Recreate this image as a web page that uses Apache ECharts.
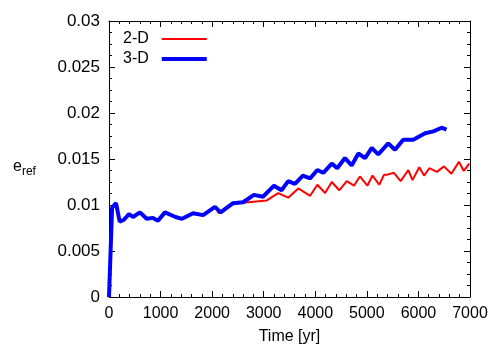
<!DOCTYPE html>
<html>
<head>
<meta charset="utf-8">
<script src="https://cdn.jsdelivr.net/npm/echarts@6/dist/echarts.min.js"></script>
<style>
  html, body { margin: 0; padding: 0; background: #fff; }
  #chart { width: 500px; height: 350px; }
</style>
</head>
<body>
<div id="chart"></div>
<script>
// values
const years3D = [0, 60, 136, 207, 290, 388, 465, 600, 730, 853, 950, 1085, 1290, 1415, 1630, 1825, 2055,
  2165, 2405, 2600, 2810, 2985, 3200, 3345, 3475, 3605, 3760, 3900, 4040, 4155, 4320, 4425, 4575, 4705,
  4835, 4965, 5095, 5220, 5415, 5545, 5705, 5900, 6130, 6290, 6450, 6545];
const values3D = [0, 0.0097, 0.0102, 0.0082, 0.0084, 0.009, 0.0087, 0.0092, 0.0085, 0.0086, 0.0083, 0.0092,
  0.0087, 0.0085, 0.0091, 0.0089, 0.0098, 0.0092, 0.0102, 0.0103, 0.0111, 0.0109, 0.0121, 0.0116, 0.0126,
  0.0123, 0.0132, 0.0129, 0.0138, 0.0135, 0.0145, 0.014, 0.0151, 0.0143, 0.0156, 0.0151, 0.0162, 0.0155,
  0.0167, 0.016, 0.0171, 0.0171, 0.0178, 0.018, 0.0184, 0.0182];

const years2D = [0, 60, 136, 207, 290, 388, 465, 600, 730, 853, 950, 1085, 1290, 1415, 1630, 1825, 2055,
  2130, 2280, 2475, 2700, 2900, 3060, 3280, 3475, 3670, 3900, 4040, 4190, 4320, 4465, 4610, 4750, 4865,
  5010, 5110, 5240, 5335, 5400, 5525, 5655, 5805, 5885, 6015, 6110, 6210, 6360, 6495, 6640, 6785, 6880, 6985];
const values2D = [0, 0.0097, 0.0102, 0.0082, 0.0084, 0.009, 0.0087, 0.0092, 0.0085, 0.0086, 0.0083, 0.0092,
  0.0087, 0.0085, 0.0091, 0.0089, 0.0098, 0.0091, 0.0098, 0.0102, 0.0103, 0.0104, 0.0105, 0.0113, 0.0108,
  0.0118, 0.011, 0.0122, 0.0113, 0.0125, 0.0116, 0.0126, 0.0121, 0.0131, 0.0121, 0.0132, 0.0122, 0.0133,
  0.0133, 0.0135, 0.0126, 0.0138, 0.0127, 0.0141, 0.0132, 0.014, 0.0136, 0.0142, 0.0134, 0.0147, 0.0137, 0.0145];

const seriesNames = ['2-D', '3-D'];
const xName = 'Time [yr]';

const font = 'Liberation Sans, Arial, sans-serif';

function zip(xs, ys) {
  return xs.map((x, i) => [x, ys[i]]);
}

const chart = echarts.init(document.getElementById('chart'), null, { renderer: 'canvas' });

const lineStyleBlack = { color: '#000', width: 1 };
const tickStyle = { show: true, inside: true, length: 6, lineStyle: lineStyleBlack };
const minorStyle = { show: true, length: 3, lineStyle: lineStyleBlack };

// gnuplot-like box: the top/right axes only draw the border and ticks
function xAxisBox(pos, withLabels) {
  return {
    type: 'value',
    position: pos,
    min: 0, max: 7000, interval: 1000,
    axisLine: { show: true, onZero: false, lineStyle: lineStyleBlack },
    axisTick: tickStyle,
    minorTick: Object.assign({ splitNumber: 5 }, minorStyle),
    axisLabel: {
      show: withLabels, fontFamily: font, fontSize: 16, color: '#000', margin: 9,
      formatter: v => String(v)
    },
    splitLine: { show: false }
  };
}
function yAxisBox(pos, withLabels) {
  return {
    type: 'value',
    position: pos,
    min: 0, max: 0.03, interval: 0.005,
    axisLine: { show: true, onZero: false, lineStyle: lineStyleBlack },
    axisTick: tickStyle,
    minorTick: Object.assign({ splitNumber: 4 }, minorStyle),
    axisLabel: {
      show: withLabels, fontFamily: font, fontSize: 17, color: '#000', margin: 9,
      formatter: v => String(+v.toFixed(4))
    },
    splitLine: { show: false }
  };
}

const xBottom = xAxisBox('bottom', true);
xBottom.name = xName;
xBottom.nameLocation = 'middle';
xBottom.nameGap = 32;
xBottom.nameTextStyle = { fontFamily: font, fontSize: 16, color: '#000' };

chart.setOption({
  animation: false,
  backgroundColor: '#fff',
  grid: { left: 109, right: 30, top: 21, bottom: 53, containLabel: false },
  legend: {
    data: [
      { name: seriesNames[0], icon: 'path://M0,0L45,0L45,2L0,2Z' },
      { name: seriesNames[1], icon: 'path://M0,0L45,0L45,4L0,4Z' }
    ],
    orient: 'vertical',
    left: 118,
    top: 26,
    align: 'right',
    itemWidth: 45,
    itemHeight: 14,
    itemGap: 4,
    textStyle: { fontFamily: font, fontSize: 16, color: '#000', padding: [0, 8, 0, 0] }
  },
  graphic: [{
    type: 'text',
    left: 13,
    top: 159,
    style: {
      text: 'e{sub|ref}',
      fontFamily: font,
      fontSize: 16,
      fill: '#000',
      rich: { sub: { fontFamily: font, fontSize: 12, padding: [10, 0, 0, 0] } }
    }
  }],
  xAxis: [xBottom, xAxisBox('top', false)],
  yAxis: [yAxisBox('left', true), yAxisBox('right', false)],
  series: [{
    name: seriesNames[0],
    type: 'line',
    data: zip(years2D, values2D),
    symbol: 'none',
    lineStyle: { color: '#ff0000', width: 2 },
    itemStyle: { color: '#ff0000' }
  }, {
    name: seriesNames[1],
    type: 'line',
    data: zip(years3D, values3D),
    symbol: 'none',
    lineStyle: { color: '#0000ff', width: 4 },
    itemStyle: { color: '#0000ff' }
  }]
});
</script>
</body>
</html>
